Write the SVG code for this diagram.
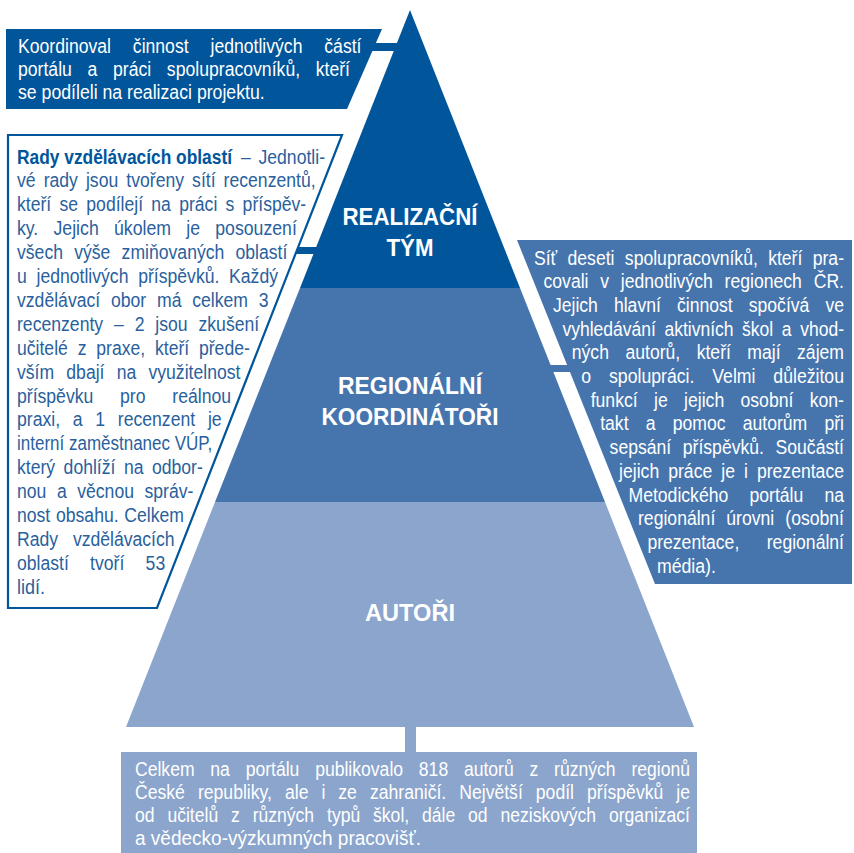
<svg xmlns="http://www.w3.org/2000/svg" width="854" height="853" viewBox="0 0 854 853">
<style>
.dark{fill:#00559b}
.mid{fill:#4675ae}
.light{fill:#8ba5cc}
.t{font-family:"Liberation Sans",Arial,sans-serif;font-size:20px}
.w{fill:#ffffff}
.b{fill:#2a5f9d}
.bb{fill:#00559b;font-weight:bold}
.lab{font-family:"Liberation Sans",Arial,sans-serif;font-size:23px;font-weight:bold;fill:#ffffff;text-anchor:middle}
</style>
<rect x="0" y="0" width="854" height="853" fill="#ffffff"/>
<g id="connectors">
  <rect class="dark" x="340" y="43" width="60" height="8"/>
  <rect class="dark" x="290" y="247" width="30" height="7"/>
  <rect class="mid" x="545" y="365" width="30" height="7"/>
  <rect class="light" x="405" y="720" width="11" height="37"/>
</g>
<g id="pyramid">
  <g id="node-realizacni">
    <polygon class="dark" points="410,10 520,288 300,288"/>
    <text class="lab" x="410" y="225" textLength="135" lengthAdjust="spacingAndGlyphs">REALIZAČNÍ</text>
    <text class="lab" x="410" y="256" textLength="47" lengthAdjust="spacingAndGlyphs">TÝM</text>
  </g>
  <g id="node-regionalni">
    <polygon class="mid" points="300,288 520,288 605,502 215,502"/>
    <text class="lab" x="410" y="394" textLength="144" lengthAdjust="spacingAndGlyphs">REGIONÁLNÍ</text>
    <text class="lab" x="410" y="425" textLength="177" lengthAdjust="spacingAndGlyphs">KOORDINÁTOŘI</text>
  </g>
  <g id="node-autori">
    <polygon class="light" points="215,502 605,502 694,727 126,727"/>
    <text class="lab" x="410" y="621" textLength="90" lengthAdjust="spacingAndGlyphs">AUTOŘI</text>
  </g>
</g>
<g id="node-note-top">
  <polygon class="dark" points="6,29 382,29 347,109 6,109"/>
  <text class="t w" x="18" y="52.5" textLength="343.5" lengthAdjust="spacingAndGlyphs" word-spacing="19.3">Koordinoval činnost jednotlivých částí</text>
  <text class="t w" x="18" y="75.5" textLength="332" lengthAdjust="spacingAndGlyphs" word-spacing="12.2">portálu a práci spolupracovníků, kteří</text>
  <text class="t w" x="18" y="98.5" textLength="246.7" lengthAdjust="spacingAndGlyphs">se podíleli na realizaci projektu.</text>
</g>
<g id="node-rady">
  <polygon points="8,135 342,135 157,608 8,608" fill="#ffffff" stroke="#00559b" stroke-width="2.2"/>
  <text class="t bb" x="17" y="163.5" textLength="215" lengthAdjust="spacingAndGlyphs">Rady vzdělávacích oblastí</text>
  <text class="t b" x="241" y="163.5" textLength="84" lengthAdjust="spacingAndGlyphs" word-spacing="3.2">– Jednotli-</text>
  <text class="t b" x="17" y="187.4" textLength="298.6" lengthAdjust="spacingAndGlyphs" word-spacing="3.6">vé rady jsou tvořeny sítí recenzentů,</text>
  <text class="t b" x="17" y="211.3" textLength="289.2" lengthAdjust="spacingAndGlyphs" word-spacing="3.8">kteří se podílejí na práci s příspěv-</text>
  <text class="t b" x="17" y="235.2" textLength="279.8" lengthAdjust="spacingAndGlyphs" word-spacing="11.7">ky. Jejich úkolem je posouzení</text>
  <text class="t b" x="17" y="259.1" textLength="270.4" lengthAdjust="spacingAndGlyphs" word-spacing="7.2">všech výše zmiňovaných oblastí</text>
  <text class="t b" x="17" y="283" textLength="261" lengthAdjust="spacingAndGlyphs" word-spacing="5.5">u jednotlivých příspěvků. Každý</text>
  <text class="t b" x="17" y="306.9" textLength="251.6" lengthAdjust="spacingAndGlyphs" word-spacing="6.7">vzdělávací obor má celkem 3</text>
  <text class="t b" x="17" y="330.8" textLength="242.2" lengthAdjust="spacingAndGlyphs" word-spacing="6.8">recenzenty – 2 jsou zkušení</text>
  <text class="t b" x="17" y="354.7" textLength="232.8" lengthAdjust="spacingAndGlyphs" word-spacing="5.6">učitelé z praxe, kteří přede-</text>
  <text class="t b" x="17" y="378.6" textLength="223.4" lengthAdjust="spacingAndGlyphs" word-spacing="8.3">vším dbají na využitelnost</text>
  <text class="t b" x="17" y="402.5" textLength="214" lengthAdjust="spacingAndGlyphs" word-spacing="24.9">příspěvku pro reálnou</text>
  <text class="t b" x="17" y="426.4" textLength="204.6" lengthAdjust="spacingAndGlyphs" word-spacing="8.9">praxi, a 1 recenzent je</text>
  <text class="t b" x="17" y="450.3" textLength="195.2" lengthAdjust="spacingAndGlyphs">interní zaměstnanec VÚP,</text>
  <text class="t b" x="17" y="474.2" textLength="185.8" lengthAdjust="spacingAndGlyphs" word-spacing="4.1">který dohlíží na odbor-</text>
  <text class="t b" x="17" y="498.1" textLength="176.4" lengthAdjust="spacingAndGlyphs" word-spacing="6.4">nou a věcnou správ-</text>
  <text class="t b" x="17" y="522" textLength="167" lengthAdjust="spacingAndGlyphs" word-spacing="1">nost obsahu. Celkem</text>
  <text class="t b" x="17" y="545.9" textLength="157.6" lengthAdjust="spacingAndGlyphs" word-spacing="11.3">Rady vzdělávacích</text>
  <text class="t b" x="17" y="569.8" textLength="148.2" lengthAdjust="spacingAndGlyphs" word-spacing="18.6">oblastí tvoří 53</text>
  <text class="t b" x="17" y="593.7" textLength="28" lengthAdjust="spacingAndGlyphs">lidí.</text>
</g>
<g id="node-sit">
  <polygon class="mid" points="517,240 852,240 852,584 655,584"/>
  <text class="t w" x="534" y="264.5" textLength="310" lengthAdjust="spacingAndGlyphs" word-spacing="6.2">Síť deseti spolupracovníků, kteří pra-</text>
  <text class="t w" x="543.5" y="288.2" textLength="300.5" lengthAdjust="spacingAndGlyphs" word-spacing="7.8">covali v jednotlivých regionech ČR.</text>
  <text class="t w" x="552.9" y="311.9" textLength="291.1" lengthAdjust="spacingAndGlyphs" word-spacing="12.7">Jejich hlavní činnost spočívá ve</text>
  <text class="t w" x="562.4" y="335.6" textLength="281.6" lengthAdjust="spacingAndGlyphs" word-spacing="4.3">vyhledávání aktivních škol a vhod-</text>
  <text class="t w" x="571.8" y="359.3" textLength="272.2" lengthAdjust="spacingAndGlyphs" word-spacing="13.2">ných autorů, kteří mají zájem</text>
  <text class="t w" x="581.3" y="383" textLength="262.7" lengthAdjust="spacingAndGlyphs" word-spacing="14.7">o spolupráci. Velmi důležitou</text>
  <text class="t w" x="590.7" y="406.7" textLength="253.3" lengthAdjust="spacingAndGlyphs" word-spacing="13">funkcí je jejich osobní kon-</text>
  <text class="t w" x="600.2" y="430.4" textLength="243.8" lengthAdjust="spacingAndGlyphs" word-spacing="14">takt a pomoc autorům při</text>
  <text class="t w" x="609.6" y="454.1" textLength="234.4" lengthAdjust="spacingAndGlyphs" word-spacing="7.6">sepsání příspěvků. Součástí</text>
  <text class="t w" x="619.1" y="477.8" textLength="224.9" lengthAdjust="spacingAndGlyphs" word-spacing="4.7">jejich práce je i prezentace</text>
  <text class="t w" x="628.5" y="501.5" textLength="215.5" lengthAdjust="spacingAndGlyphs" word-spacing="18.5">Metodického portálu na</text>
  <text class="t w" x="638" y="525.2" textLength="206" lengthAdjust="spacingAndGlyphs" word-spacing="7">regionální úrovni (osobní</text>
  <text class="t w" x="647.4" y="548.9" textLength="196.6" lengthAdjust="spacingAndGlyphs" word-spacing="25.7">prezentace, regionální</text>
  <text class="t w" x="656.9" y="572.6" textLength="59" lengthAdjust="spacingAndGlyphs">média).</text>
</g>
<g id="node-celkem">
  <rect class="light" x="121" y="752" width="576" height="101"/>
  <text class="t w" x="135" y="776" textLength="555" lengthAdjust="spacingAndGlyphs" word-spacing="12.4">Celkem na portálu publikovalo 818 autorů z různých regionů</text>
  <text class="t w" x="135" y="799" textLength="555" lengthAdjust="spacingAndGlyphs" word-spacing="9.2">České republiky, ale i ze zahraničí. Největší podíl příspěvků je</text>
  <text class="t w" x="135" y="822" textLength="555" lengthAdjust="spacingAndGlyphs" word-spacing="9.1">od učitelů z různých typů škol, dále od neziskových organizací</text>
  <text class="t w" x="135" y="845" textLength="286" lengthAdjust="spacingAndGlyphs">a vědecko-výzkumných pracovišť.</text>
</g>
</svg>
